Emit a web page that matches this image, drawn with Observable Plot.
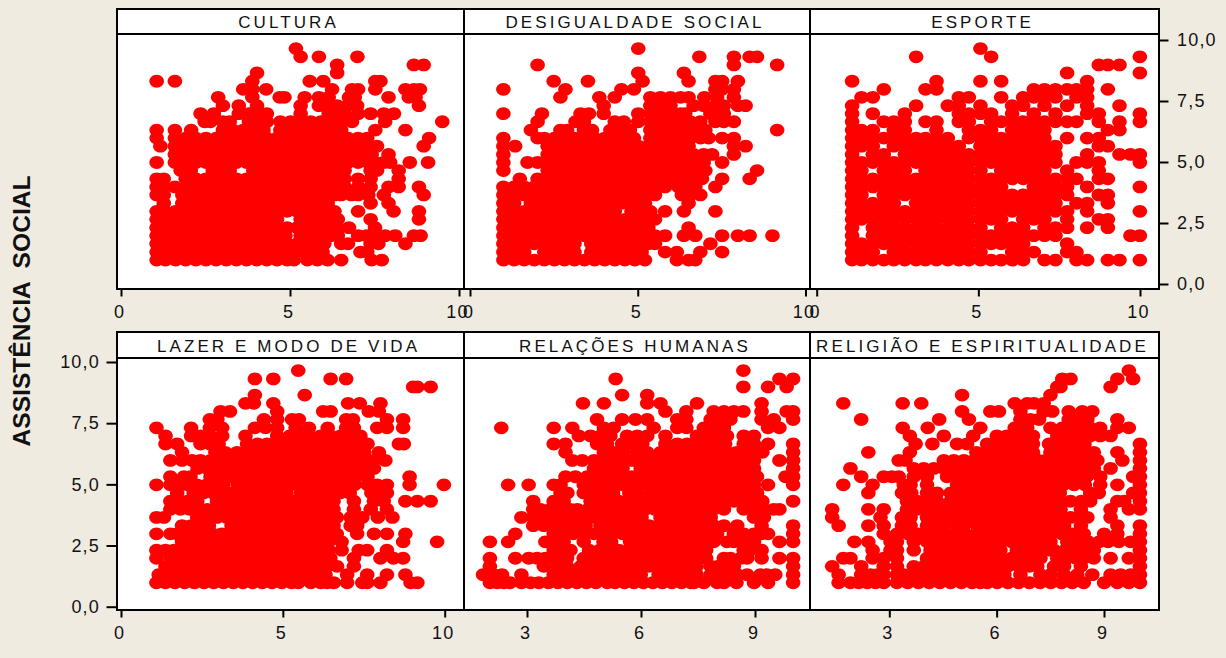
<!DOCTYPE html>
<html lang="pt">
<head>
<meta charset="utf-8">
<script src="https://cdn.jsdelivr.net/npm/d3@7"></script>
<script src="https://cdn.jsdelivr.net/npm/@observablehq/plot@0.6"></script>
<style>
html,body{margin:0;padding:0;background:#f0ebe1}
#page{position:relative;width:1226px;height:658px;background:#f0ebe1;overflow:hidden}
#page svg{position:absolute;left:0;top:0;pointer-events:none}
.strip{position:absolute;box-sizing:border-box;background:#fff;border:2px solid #000}
.strip-title text{letter-spacing:3.1px;font-size:17px}
#ylabel{position:absolute;left:22px;top:311px;transform:translate(-50%,-50%) rotate(-90deg);font:bold 24.6px "Liberation Sans",Arial,sans-serif;white-space:pre;color:#111}
</style>
</head>
<body>
<div id="page"><div id="ylabel">ASSISTÊNCIA  SOCIAL</div></div>
<script>
// Each row: first number is ASSISTÊNCIA SOCIAL, the others are the x values read on that row.
const cultura = [
[9.67,5.16],
[9.33,5.3,5.84,6.98],
[9,6.38,8.65,8.94],
[8.67,4.01,6.38],
[8.33,1.04,1.58,3.87,5.57,5.97,7.51,7.66],
[8,3.6,3.87,4.28,6.23,6.82,7,7.51,8.4,8.65,8.83],
[7.67,2.86,3.87,4.68,4.82,5.42,5.84,6.13,6.73,6.9,7.9,8.5,8.7],
[7.33,3,3.47,4.01,5.3,5.84,6.13,6.38,6.68,6.97,8.8],
[7,2.34,2.73,3.47,3.77,4.01,4.3,5.3,6.13,6.38,6.6,7,7.37,7.76,8.06],
[6.67,2.46,2.63,3,3.2,3.77,4.01,4.3,4.7,5,5.3,5.6,5.9,6.2,6.5,6.82,7.8,9.49],
[6.33,1.04,1.58,2.06,3,3.3,3.6,3.9,4.2,4.7,5,5.3,5.6,5.9,6.2,6.5,7.51,8.4],
[6,1.04,1.58,1.9,2.2,2.5,2.8,3.1,3.4,3.7,4,4.3,4.6,4.9,5.2,5.5,5.8,6.1,6.4,6.7,7,7.27,9.1],
[5.67,1.15,1.58,1.9,2.2,2.5,2.8,3.1,3.4,3.7,4,4.3,4.6,4.9,5.2,5.5,5.8,6.1,6.4,6.7,7,7.3,7.56,8.94],
[5.33,1.58,1.9,2.2,2.5,2.8,3.1,3.4,3.7,4,4.3,4.6,4.9,5.2,5.5,5.8,6.1,6.4,6.7,7,7.2,7.4,7.9],
[5,1.04,1.58,1.9,2.2,2.5,2.8,3.1,3.4,3.7,4,4.3,4.6,4.9,5.2,5.5,5.8,6.1,6.4,6.7,7,7.3,7.5,7.76,7.95,8.53,9.07],
[4.67,1.75,2.05,2.7,3,3.2,3.9,4.2,4.5,4.8,5.1,5.4,5.7,6,6.3,6.6,7.37,7.56,8.2],
[4.33,1.04,1.25,1.9,2.2,2.5,2.8,3.1,3.4,3.7,4,4.3,4.6,4.9,5.2,5.5,5.8,6.1,6.4,6.6,7,7.37,8.2],
[4,1.04,1.25,1.58,1.9,2.2,2.5,2.8,3.1,3.4,3.7,4,4.3,4.6,4.9,5.2,5.5,5.8,6.1,6.4,6.6,7,7.37,7.9,8.2,8.8],
[3.67,1.04,1.25,1.8,2.1,2.4,2.7,3,3.3,3.6,3.9,4.2,4.5,4.8,5.1,5.4,5.7,6,6.3,6.5,6.8,7,7.3,7.76,8.94],
[3.33,1.25,1.8,2.1,2.4,2.7,3,3.3,3.6,3.9,4.2,4.5,4.8,5.1,5.4,5.7,6,6.1,7.37,7.9],
[3,1.04,1.3,1.6,1.9,2.2,2.5,2.8,3.1,3.4,3.7,4,4.3,4.6,4.9,5.2,5.5,5.8,6.1,6.3,7,8.05,8.8],
[2.67,1.04,1.3,1.55,1.9,2.2,2.5,2.8,3.1,3.4,3.7,4,4.3,4.6,5.3,5.6,5.9,6.2,6.4,7.37,8.8],
[2.33,1.04,1.3,1.6,1.9,2.2,2.5,2.8,3.1,3.4,3.7,4,4.3,4.6,4.9,5.2,5.5,5.8,6.1,6.4,6.73,7.5],
[2,1.04,1.3,1.55,1.9,2.2,2.5,2.8,3.1,3.4,3.7,4,4.3,4.6,4.85,5.3,5.6,5.9,6.2,6.4,7,7.25,7.5,7.8,8.1,8.65,8.85],
[1.67,1.04,1.3,1.6,1.9,2.2,2.5,2.8,3.1,3.4,3.7,4,4.3,4.6,4.9,5.2,5.5,5.8,6,6.5,6.7,7.37,7.6,8.4],
[1.33,1.04,1.3,1.6,1.9,2.2,2.5,2.8,3.1,3.4,3.7,4,4.3,4.6,4.9,5.2,5.5,5.8,5.95,7.07,7.27],
[1,1.04,1.3,1.6,1.9,2.2,2.5,2.8,3.1,3.4,3.7,4,4.3,4.6,4.9,5.1,5.5,5.8,6.1,6.5,7.4,7.7]
];
const desigualdade = [
[9.67,5],
[9.33,6.82,7.85,8.32,8.54],
[9,2,7.85,9.14],
[8.67,5,6.36],
[8.33,2.48,3.5,5.13,6.5,7.3,7.5,7.97],
[8,0.98,2.83,4.5,4.87,7.3,7.5,7.85],
[7.67,2.68,3.84,4.3,5.36,5.66,5.96,6.26,6.5,6.97,7.35,7.85],
[7.33,3.97,5.36,5.66,5.96,6.65,6.95,7.3,7.55,7.97,8.2],
[7,0.98,2.13,3.28,3.53,3.97,5,5.36,5.66,5.96,6.26,6.4,7.15,7.55],
[6.67,2,3.13,3.38,4.3,4.57,5,5.36,5.66,5.96,6.26,6.55,6.85,7.3,7.55,7.85],
[6.33,1.8,2.68,2.88,3.38,3.62,4.17,4.47,4.75,5.36,5.66,5.96,6.26,6.55,6.8,7,9.14],
[6,0.98,2,2.2,2.5,2.8,3.1,3.4,3.7,4,4.3,4.6,4.87,5.36,5.66,5.96,6.26,6.56,6.86,7.1,7.5,7.85],
[5.67,0.98,1.33,2.3,2.6,2.9,3.2,3.5,3.8,4.1,4.4,4.7,5,5.3,5.6,5.9,6.2,6.5,7.85,8.2],
[5.33,0.98,2.3,2.6,2.9,3.2,3.5,3.8,4.1,4.4,4.7,5,5.3,5.6,5.9,6.2,6.5,6.65,6.95,7.2,7.85],
[5,0.98,1.7,2,2.3,2.6,2.9,3.2,3.5,3.8,4.1,4.4,4.7,5,5.3,5.6,5.9,6.2,6.4,6.65,6.95,7.5],
[4.67,0.98,2.3,2.6,2.9,3.2,3.5,3.8,4.1,4.4,4.7,5,5.3,5.6,5.9,6.2,6.5,6.7,7,8.54],
[4.33,1.47,2,2.3,2.6,2.9,3.2,3.5,3.8,4.1,4.4,4.7,5,5.3,5.6,5.9,6.2,6.5,6.7,6.9,7.5,8.32],
[4,0.98,1.3,1.6,1.9,2.2,2.5,2.8,3.1,3.4,3.7,4,4.3,4.6,4.9,5.2,5.5,5.8,6.2,6.4,6.7,7.3],
[3.67,0.98,1.3,1.6,1.9,2.2,2.5,2.8,3.1,3.4,3.7,4,4.3,4.6,4.9,5.2,5.5,6.3,6.55,6.85],
[3.33,0.98,1.3,1.8,2.1,2.4,2.7,3,3.3,3.6,3.9,4.2,4.5,4.8,5.1,5.2,6.5],
[3,0.98,1.3,1.6,1.9,2.2,2.5,2.8,3.1,3.4,3.7,4,4.3,4.8,5.1,5.36,5.8,6.36,7.3],
[2.67,0.98,1.3,1.6,1.9,2.2,2.5,2.8,3.1,3.4,3.7,4,4.3,4.6,4.9,5.2,5.5],
[2.33,0.98,1.3,1.6,1.9,2.2,2.5,2.8,3.1,3.4,3.7,4,4.3,4.6,4.9,5.1,5.3,6.5],
[2,0.98,1.3,1.6,1.9,2.2,2.5,2.8,3.1,3.4,3.7,4,4.3,4.6,4.9,5.2,5.5,5.8,6.36,6.7,7.5,7.97,8.32,9],
[1.67,0.98,1.3,1.6,1.9,2.2,2.5,2.8,3.1,3.6,3.9,4.2,4.5,4.8,5.1,5.3,5.5,7.15],
[1.33,0.98,1.3,1.6,2.2,2.5,2.8,3.1,3.6,3.9,4.2,4.5,4.8,5.1,5.8,6.15,6.85,7.5],
[1,0.98,1.3,1.6,1.9,2.2,2.5,2.8,3.1,3.4,3.7,4,4.3,4.6,4.9,5.2,6.15,6.5,6.7]
];
const esporte = [
[9.67,5.05],
[9.33,3.06,5.38,9.98],
[9,8.71,8.99,9.35],
[8.67,7.73,9.98],
[8.33,1.08,3.69,5.05,5.69,8.35],
[8,2.06,3.35,3.69,6.7,7.03,7.37,7.73,8.02,8.35,8.99],
[7.67,1.37,1.72,4.38,4.69,5.69,6.37,6.7,7.03,7.37,8.02,8.35],
[7.33,1.08,3.06,4.04,4.38,5.05,6.03,6.37,7.03,7.73,8.35,9.35],
[7,1.08,1.72,2.71,4.38,4.69,5.05,5.38,6.03,6.7,7.37,8.35,8.71,9.98],
[6.67,1.08,2.06,2.37,2.71,3.35,3.69,4.38,4.69,5.38,5.69,6.03,6.37,6.7,7.03,7.37,7.73,8.02,8.71,9.35,9.98],
[6.33,1.08,1.37,1.72,2.37,2.71,3.69,4.69,5.05,5.38,6.03,6.37,6.7,7.03,8.99,9.35],
[6,1.08,1.37,1.72,2.06,2.37,2.71,3.06,3.35,3.69,4.04,4.69,5.05,5.38,5.69,6.03,6.37,6.7,7.03,7.73,8.35,8.71],
[5.67,1.08,1.37,1.72,2.37,2.71,3.06,3.35,3.69,4.04,4.38,5.05,5.38,5.69,6.03,6.37,6.7,7.03,7.37,8.71,8.99],
[5.33,1.08,1.72,2.06,2.71,3.06,3.35,3.69,4.04,4.38,4.69,5.05,5.38,5.69,6.03,6.37,6.7,7.03,7.37,8.35,9.35,9.69,9.98],
[5,1.08,1.37,1.72,2.06,2.37,2.71,3.06,3.35,3.69,4.04,4.38,4.69,5.05,5.38,5.69,6.03,6.37,6.7,7.03,7.37,8.02,8.35,8.71,9.98],
[4.67,1.08,1.37,2.06,2.37,2.71,3.35,3.69,4.04,4.38,4.69,5.05,5.69,6.03,6.37,6.7,7.03,7.73,8.71],
[4.33,1.08,1.37,1.72,2.06,2.37,2.71,3.06,3.35,3.69,4.04,4.38,4.69,5.05,5.38,5.69,6.03,6.37,6.7,7.03,7.37,7.73,8.02,8.71,8.99],
[4,1.08,1.37,1.72,2.06,2.37,2.71,3.06,3.35,3.69,4.04,4.38,4.69,5.05,5.38,5.69,6.7,7.03,7.37,7.73,8.35,9.98],
[3.67,1.08,1.37,2.06,2.37,2.71,3.06,3.35,3.69,4.04,4.38,4.69,5.05,5.38,5.69,6.03,6.37,6.7,7.03,7.37,7.73,8.71,8.99],
[3.33,1.08,1.37,1.72,2.06,2.37,3.06,3.35,3.69,4.04,4.38,4.69,5.05,5.38,5.69,6.03,6.37,6.7,7.03,7.37,8.02,8.35,8.99],
[3,1.08,1.37,1.72,2.06,2.37,2.71,3.06,3.35,3.69,4.04,4.38,4.69,5.05,5.38,5.69,6.03,6.37,6.7,7.03,7.37,7.73,8.35,9.98],
[2.67,1.08,1.37,1.72,2.06,2.37,2.71,3.06,3.35,3.69,4.04,4.38,4.69,5.05,5.38,5.69,6.37,6.7,7.03,7.73,8.71,8.99],
[2.33,1.08,1.72,2.06,2.37,2.71,3.06,3.35,3.69,4.04,4.38,4.69,5.05,5.69,6.03,6.37,7.03,7.37,7.73,8.35,8.99],
[2,1.08,1.72,2.06,2.37,2.71,3.06,3.35,3.69,4.04,4.38,4.69,5.05,5.38,5.69,6.03,6.37,6.7,7.03,7.37,9.69,9.98],
[1.67,1.08,1.37,1.72,2.06,2.37,2.71,3.06,3.35,3.69,4.04,4.38,4.69,5.05,5.38,5.69,6.03,6.37,7.73],
[1.33,1.08,1.37,1.72,2.37,2.71,3.06,3.35,3.69,4.04,4.38,4.69,5.05,6.03,6.37,6.7,7.73,8.02],
[1,1.08,1.37,1.72,2.06,2.37,2.71,3.06,3.35,3.69,4.04,4.38,4.69,5.05,5.38,5.69,6.03,6.37,7.03,7.37,8.02,8.35,8.99,9.35,9.98]
];
const lazer = [
[9.67,5.46],
[9.33,4.12,4.69,6.46,6.94],
[9,9.01,9.14,9.55],
[8.67,4.12,5.66],
[8.33,3.83,4.09,4.69,7,7.36,8],
[8,3.06,3.35,4.81,6.23,6.46,7.64,7.95],
[7.67,2.73,2.96,4.4,4.81,5.27,5.48,6.94,7.15,8.2,8.7],
[7.33,1.08,2.15,2.73,3.11,4.12,4.45,4.81,5.38,5.79,6.37,6.94,7.18,7.9,8.2,8.7],
[7,1.36,2.15,2.44,2.73,3.11,3.83,4.81,5.2,5.5,5.8,6.15,6.46,6.77,7.08,7.38],
[6.67,1.36,1.72,2.44,2.73,3,3.88,4.2,4.5,4.8,5.1,5.4,5.7,6,6.3,6.6,6.9,7.2,7.6,8.57,8.72],
[6.33,1.87,2.9,3.2,3.57,3.88,4.2,4.5,4.8,5.1,5.4,5.7,6,6.3,6.6,6.9,7.2,7.5,7.95],
[6,1.51,1.87,2.18,2.44,2.75,3.05,3.35,3.65,3.95,4.25,4.55,4.85,5.1,5.4,5.7,6,6.3,6.6,6.9,7.2,7.5,7.8,8.15],
[5.67,2.35,2.65,2.95,3.25,3.55,3.85,4.15,4.45,4.75,5.05,5.35,5.65,5.95,6.25,6.55,6.85,7.15,7.45,7.8],
[5.33,1.51,1.93,2.13,2.75,3.05,3.35,3.65,3.95,4.25,4.55,4.85,5.15,5.45,5.75,6.05,6.35,6.65,6.95,7.25,7.6,8.9],
[5,1.08,1.51,1.72,2.03,2.33,2.63,2.93,3.15,3.6,3.9,4.2,4.5,4.8,5.1,5.4,5.7,6,6.3,6.6,6.9,7.2,7.6,7.9,8.2,8.9,9.96],
[4.67,1.72,2.23,2.53,2.83,3.13,3.43,3.73,4.03,4.33,4.63,4.93,5.1,5.55,5.85,6.15,6.45,6.75,7.05,7.72,7.9,8.2],
[4.33,1.51,1.82,2.05,2.34,2.95,3.25,3.55,3.85,4.15,4.45,4.75,5.05,5.35,5.65,5.95,6.25,6.55,7.18,7.8,8.1,8.77,9.14,9.55],
[4,1.51,1.82,2.1,2.34,2.65,2.95,3.25,3.55,3.85,4.15,4.45,4.75,5.05,5.35,5.65,5.95,6.25,6.55,7.18,7.7,8.2],
[3.67,1.08,1.31,2.34,2.65,2.95,3.25,3.55,3.85,4.15,4.45,4.75,5.1,5.4,5.7,6,6.3,6.65,7.08,7.44,7.92,8.37],
[3.33,1.87,2.15,2.45,2.7,3.4,3.7,4,4.3,4.6,4.9,5.3,5.65,5.95,6.25,6.55,7.08,7.28],
[3,1.08,1.51,1.72,1.93,2.2,2.5,2.8,3.1,3.4,3.7,4,4.3,4.6,4.9,5.2,5.5,5.8,6.1,6.4,6.65,7.28,7.8,8.2,8.77],
[2.67,1.87,2.2,2.5,2.8,3.1,3.4,3.7,4,4.3,4.6,4.9,5.2,5.5,5.8,6.1,6.4,6.8,8.7,9.75],
[2.33,1.08,1.36,1.62,1.9,2.2,2.5,2.8,3.1,3.4,3.7,4,4.3,4.6,4.9,5.2,5.5,5.8,6.1,6.4,6.8,7.33,7.59,8.2],
[2,1.08,1.51,1.8,2.1,2.4,2.7,3,3.3,3.6,3.9,4.2,4.5,4.8,5.1,5.4,5.7,6,6.3,6.45,7.18,8,8.4,8.7],
[1.67,1.36,1.65,1.95,2.25,2.55,2.85,3.15,3.45,3.75,4.05,4.35,4.65,4.95,5.25,5.55,5.85,6.15,6.35,6.66,7.18],
[1.33,1.15,1.41,1.72,2,2.3,2.6,2.9,3.2,3.5,3.8,4.1,4.4,4.7,5,5.3,5.6,5.9,6.3,6.97,7.59,8.2,8.77],
[1,1.08,1.36,1.65,1.95,2.25,2.55,2.85,3.15,3.45,3.75,4.05,4.35,4.65,4.95,5.25,5.46,5.85,6.15,6.35,6.56,6.97,7.44,7.59,8,8.93,9.14]
];
const relacoes = [
[9.67,8.68],
[9.33,5.32,9.63,9.99],
[9,8.68,9.33,9.82],
[8.67,5.49,6.15],
[8.33,4.46,5.01,6.15,6.5,7.46,9.16],
[8,6.63,7.18,7.9,8.17,8.43,8.68,9.16,9.82,9.99],
[7.67,4.83,5.49,5.84,6.15,6.94,7.18,7.82,8.08,8.34,9.16,9.48,9.99],
[7.33,2.31,3.69,4.18,5.01,5.27,6.32,6.94,7.18,7.64,7.99,8.17,9.33,9.63],
[7,4.35,4.66,4.92,5.18,5.62,5.89,6.15,6.63,7.46,7.73,7.99,8.25,8.69,8.96],
[6.67,3.69,4,4.83,5.09,5.49,5.75,6.02,6.63,6.94,7.2,7.46,7.72,7.99,8.2,8.69,8.96,9.33,9.99],
[6.33,4,5.01,5.27,5.53,5.89,6.15,6.5,6.75,7,7.25,7.5,7.75,8,8.25,8.5,8.75,8.96,9.18,9.99],
[6,4.18,4.44,4.75,5,5.25,5.5,5.75,6,6.25,6.5,6.75,7,7.25,7.5,7.75,8,8.25,8.5,8.75,8.96,9.63,9.99],
[5.67,4.75,5,5.25,5.5,5.98,6.25,6.5,6.75,7,7.25,7.5,7.75,8,8.25,8.5,8.75,8.96,9.99],
[5.33,4,4.26,4.57,4.75,5,5.25,5.5,5.75,6,6.25,6.5,6.75,7,7.25,7.5,7.75,8,8.25,8.5,8.75,9.04,9.79,9.99],
[5,2.49,3.03,3.69,3.87,4.48,4.75,5,5.25,5.5,5.75,6,6.25,6.5,6.75,7,7.25,7.5,7.75,8,8.25,8.5,8.75,8.96,9.33,9.99],
[4.67,3.87,4.05,4.48,4.75,5,5.25,5.68,5.9,6.25,6.5,6.75,7,7.25,7.5,7.75,8,8.25,8.5,8.75,9.04],
[4.33,3.15,3.69,3.95,4.66,4.9,5.15,5.4,5.65,5.9,6.15,6.4,6.65,6.9,7.15,7.4,7.65,7.9,8.15,8.43,8.69,8.96,9.18,9.99],
[4,3.15,3.34,3.6,3.87,4.13,4.31,4.6,4.85,5.1,5.35,5.6,5.85,6.1,6.35,6.6,6.85,7.1,7.35,7.6,7.9,8.17,8.69,8.96,9.22,9.48,9.63],
[3.67,2.84,3.15,3.43,3.7,3.95,4.22,4.48,4.75,5,5.25,5.5,5.75,6,6.5,6.75,7,7.25,7.5,7.82,8.96,9.22],
[3.33,3.15,3.43,3.7,3.95,4.22,4.53,4.92,5.2,5.45,5.7,5.95,6.2,6.45,6.7,6.95,7.2,7.45,7.7,7.9,8.17,8.52,9.16,9.99],
[3,2.68,3.69,3.95,4.2,4.48,4.75,5,5.25,5.5,5.75,6,6.25,6.5,6.75,7,7.25,7.5,7.75,7.99,8.43,8.69,8.96,9.16,9.33,9.99],
[2.67,2.01,2.49,3.47,3.69,3.95,4.48,5,5.2,5.7,5.95,6.2,6.45,6.7,6.95,7.2,7.45,7.7,7.9,8.25,8.43,8.69,8.96,9.63,9.99],
[2.33,3.69,3.95,4.13,4.62,4.9,5.15,5.4,5.65,5.9,6.15,6.4,6.65,6.9,7.15,7.4,7.7,8.69,8.87,9.16],
[2,2.01,2.68,3.03,3.25,3.47,3.7,3.95,4.04,4.48,4.75,5,5.25,5.5,5.75,6,6.25,6.5,6.75,7,7.25,7.5,7.7,8.17,8.34,8.61,8.78,9.16,9.63,9.99],
[1.67,2.01,3.43,3.78,4.04,4.4,4.7,4.95,5.2,5.45,5.7,5.95,6.2,6.45,6.7,6.95,7.2,7.45,7.82,8,8.25,8.43,9.99],
[1.33,1.83,2.11,2.33,2.84,3.69,3.87,4.22,4.5,4.75,5,5.25,5.5,5.75,5.98,6.45,6.7,6.95,7.2,7.45,7.82,8.08,8.34,8.52,8.78,9.13,9.3,9.52,9.99],
[1,2.01,2.2,2.38,2.54,2.84,3.08,3.3,3.55,3.8,4.05,4.3,4.55,4.8,5.1,5.3,5.55,5.8,6.05,6.3,6.55,6.8,7.05,7.3,7.38,7.64,7.99,8.17,8.5,8.96,9.33,9.99]
];
const religiao = [
[9.67,9.68],
[9.33,7.82,8.05,9.36,9.8],
[9,7.68,7.77,9.17],
[8.67,5.02,7.49],
[8.33,1.7,3.36,3.88,6.49,6.84,7.03,7.3],
[8,5.02,5.81,6.05,6.65,7.3,7.54,8,8.38,8.66],
[7.67,2.2,4.38,5.21,6.65,6.93,7.17,8,8.24,8.52,9.36],
[7.33,3.36,4.06,5.53,6.49,6.84,7.49,7.82,8.05,8.33,8.6,8.88,9.36,9.68],
[7,3.56,4.51,5.33,5.99,6.27,6.55,6.84,7,7.68,7.87,8.1,8.33,8.6,8.88,9.17],
[6.67,3.72,4.19,4.88,5.16,5.72,5.99,6.27,6.55,6.84,7,7.45,7.73,8,8.25,8.44,9.99],
[6.33,2.4,3.56,5.42,5.7,6,6.3,6.6,6.9,7,7.49,7.8,8.1,8.4,8.7,9.36,9.99],
[6,3.25,3.44,4.51,4.79,5.07,5.35,5.65,5.95,6.25,6.55,6.85,7.15,7.35,7.6,7.9,8.2,8.5,8.8,9.5,9.99],
[5.67,1.9,3.67,3.95,4.23,4.51,4.8,5.1,5.4,5.7,6,6.3,6.6,6.9,7.2,7.5,7.8,8.1,8.4,8.7,9.17,9.99],
[5.33,2.2,2.83,3.06,3.25,3.67,4.04,4.6,4.9,5.2,5.5,5.8,6.1,6.4,6.7,7,7.3,7.6,7.9,8.2,8.5,8.88,9.8,9.99],
[5,1.7,2.52,3.39,3.58,4.04,4.88,5.15,5.45,5.75,6.05,6.35,6.65,6.95,7.25,7.55,7.85,8.15,8.45,8.88,9.36,9.99],
[4.67,2.4,3.34,3.6,4.04,4.32,4.7,4.88,5.2,5.5,5.8,6.1,6.4,6.7,7,7.3,7.6,7.75,8.6,8.84,9.8,9.99],
[4.33,3.48,3.76,4.04,4.32,4.7,5.07,5.35,5.65,5.95,6.25,6.55,6.85,7.15,7.45,7.75,8.05,8.35,8.6,9.36,9.55,9.99],
[4,1.39,2.4,2.83,3.48,3.76,4.04,4.32,4.6,4.9,5.2,5.5,5.8,6.1,6.4,6.7,7,7.3,7.49,7.77,8.34,9.17,9.68,9.99],
[3.67,1.39,2.74,3.34,3.58,4.04,4.32,4.6,4.88,5.15,5.35,5.65,5.95,6.25,6.55,6.85,7.15,7.49,7.77,8.05,8.33,8.52,9.17],
[3.33,1.57,2.4,2.83,3.34,3.58,4.04,4.32,4.51,4.88,5.07,5.44,5.7,6,6.3,6.6,6.9,7.2,7.49,7.68,7.87,8.34,9.36,9.99],
[3,2.83,3.2,3.5,3.8,4.1,4.23,4.51,4.8,5.1,5.4,5.7,6,6.3,6.6,6.9,7.2,7.5,7.8,8.1,8.4,8.42,8.99,9.36,9.99],
[2.67,2.01,2.4,3.02,3.2,3.67,4.04,4.3,4.6,4.9,5.2,5.5,5.8,6.1,6.4,6.7,7,7.3,7.49,7.96,8.25,8.55,8.85,9.1,9.4,9.73,9.99],
[2.33,2.52,3.02,3.2,3.67,4.14,4.42,4.7,5,5.3,5.5,5.8,6.09,6.55,6.93,7.2,7.49,7.59,7.9,8.2,8.5,8.7,9.99],
[2,1.7,1.9,2.52,2.83,3.2,4.04,4.3,4.6,4.9,5.2,5.5,5.8,6.1,6.4,6.7,7,7.21,7.68,7.95,8.2,8.42,8.7,9.17,9.68,9.99],
[1.67,1.39,2.2,2.83,3.2,3.67,3.95,4.2,4.5,4.8,5.1,5.4,5.7,6,6.3,6.6,6.9,7.12,7.59,7.87,8.34,9.99],
[1.33,1.57,2.2,2.46,2.65,2.83,3.2,3.39,3.67,3.95,4.2,4.5,4.79,5,5.3,5.6,5.9,6.2,6.65,7.21,7.49,7.87,8.24,8.66,9.17,9.45,9.73,9.99],
[1,1.57,1.9,2.13,2.37,2.6,2.83,3.2,3.5,3.8,4.1,4.4,4.7,5,5.3,5.53,5.72,6,6.3,6.6,6.9,7.2,7.5,7.8,8.1,8.42,8.99,9.36,9.68,9.99]
];
const xTicksTop = [0,5,10];
const xTicksThirds = [3,6,9];
const yTicks = [0,2.5,5,7.5,10];
const commaFormat = d => d.toFixed(1).replace(".",",");
const toPoints = rows => rows.flatMap(([y,...xs]) => xs.map(x => ({x,y})));

// Flat ellipse marker of the original chart, as a d3 symbol.
const oval = {draw(ctx,size){
  const s=Math.sqrt(size/Math.PI), rx=s*1.12, ry=s*0.985, kx=rx*0.5523, ky=ry*0.5523;
  ctx.moveTo(rx,0);
  ctx.bezierCurveTo(rx,ky,kx,ry,0,ry);
  ctx.bezierCurveTo(-kx,ry,-rx,ky,-rx,0);
  ctx.bezierCurveTo(-rx,-ky,-kx,-ry,0,-ry);
  ctx.bezierCurveTo(kx,-ry,rx,-ky,rx,0);
  ctx.closePath();
}};

const W=1226,H=658;
const topRow={top:33.5,bottom:288.5,strip:8.5,yRange:[284,40]};
const botRow={top:357.5,bottom:609.5,strip:331.5,yRange:[606.7,362]};
const panels=[
 {title:"CULTURA",rows:cultura,row:topRow,left:116.5,right:463.5,xd:[0,10],xr:[121,459],ticks:xTicksTop},
 {title:"DESIGUALDADE SOCIAL",rows:desigualdade,row:topRow,left:463.5,right:809.5,xd:[0,10],xr:[470,805.5],ticks:xTicksTop},
 {title:"ESPORTE",rows:esporte,row:topRow,left:809.5,right:1158.5,xd:[0,10],xr:[816.7,1140],ticks:xTicksTop,yAxis:"right"},
 {title:"LAZER E MODO DE VIDA",rows:lazer,row:botRow,left:116.5,right:463.5,xd:[0,10],xr:[121,444.7],ticks:xTicksTop,yAxis:"left"},
 {title:"RELAÇÕES HUMANAS",rows:relacoes,row:botRow,left:463.5,right:809.5,xd:[3,9],xr:[527,755],ticks:xTicksThirds},
 {title:"RELIGIÃO E ESPIRITUALIDADE",rows:religiao,row:botRow,left:809.5,right:1158.5,xd:[3,9],xr:[889.3,1104],ticks:xTicksThirds}
];
const page=document.getElementById("page");
for(const p of panels){
  const strip=document.createElement("div");
  strip.className="strip";
  strip.style.cssText=`left:${p.left-0.5}px;top:${p.row.strip-0.5}px;width:${p.right-p.left+2}px;height:${p.row.top-p.row.strip+2}px`;
  page.appendChild(strip);
}
for(const p of panels){
  const marks=[
    Plot.frame({fill:"white",stroke:"black",strokeWidth:2}),
    Plot.dot(toPoints(p.rows),{x:"x",y:"y",r:6.5,symbol:oval,fill:"#ff0000"}),
    Plot.axisX({ticks:p.ticks,tickSize:8,strokeWidth:2,stroke:"#000",label:null,tickFormat:()=>""}),
    Plot.axisX({ticks:p.ticks,tickSize:0,tickPadding:16,dx:-2,fill:"#111",label:null,tickFormat:d=>String(d)}),
    Plot.text([p.title],{text:d=>d,frameAnchor:"top",lineAnchor:"middle",dx:-2,dy:-11,fill:"#111",className:"strip-title"})
  ];
  if(p.yAxis) marks.push(Plot.axisY({anchor:p.yAxis,ticks:yTicks,tickSize:p.yAxis==="right"?9:10,tickPadding:p.yAxis==="right"?9:7,strokeWidth:2,stroke:"#000",fill:"#111",label:null,tickFormat:commaFormat}));
  const chart=Plot.plot({
    width:W,height:H,
    marginLeft:p.left,marginRight:W-p.right,marginTop:p.row.top,marginBottom:H-p.row.bottom,
    x:{domain:p.xd,range:p.xr,axis:null},
    y:{domain:[0,10],range:p.row.yRange,axis:null},
    style:{background:"transparent",fontFamily:'"Liberation Sans",Arial,sans-serif',fontSize:"18px",letterSpacing:"1.2px",overflow:"visible"},
    marks
  });
  page.appendChild(chart);
}
</script>
</body>
</html>
